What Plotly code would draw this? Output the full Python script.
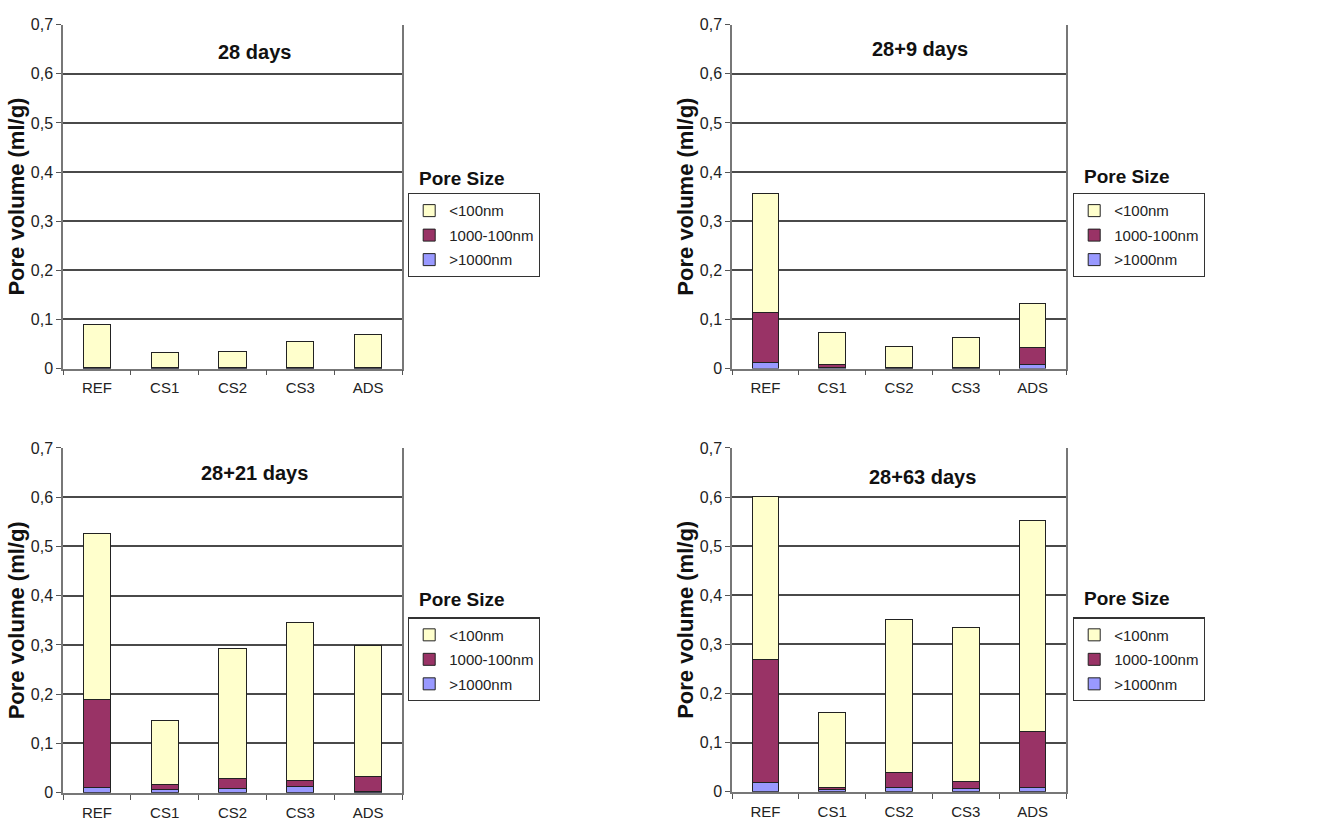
import plotly.graph_objects as go

categories = ["REF", "CS1", "CS2", "CS3", "ADS"]
series_names = ["<100nm", "1000-100nm", ">1000nm"]
panel_titles = ["28 days", "28+9 days", "28+21 days", "28+63 days"]

# segment heights (ml/g), bottom to top: >1000nm, 1000-100nm, <100nm
large_28 = [0.001, 0.001, 0.001, 0.001, 0.001]
medium_28 = [0.002, 0.002, 0.002, 0.002, 0.002]
small_28 = [0.087, 0.029, 0.031, 0.052, 0.066]

large_9 = [0.012, 0.002, 0.001, 0.001, 0.009]
medium_9 = [0.103, 0.007, 0.002, 0.002, 0.033]
small_9 = [0.241, 0.064, 0.042, 0.060, 0.090]

large_21 = [0.011, 0.007, 0.008, 0.013, 0.003]
medium_21 = [0.178, 0.009, 0.020, 0.011, 0.030]
small_21 = [0.337, 0.130, 0.264, 0.321, 0.266]

large_63 = [0.019, 0.004, 0.008, 0.007, 0.009]
medium_63 = [0.250, 0.004, 0.031, 0.013, 0.114]
small_63 = [0.332, 0.153, 0.311, 0.315, 0.429]

ytick_vals = [0, 0.1, 0.2, 0.3, 0.4, 0.5, 0.6, 0.7]
ytick_labels = ["0", "0,1", "0,2", "0,3", "0,4", "0,5", "0,6", "0,7"]
y_title = "Pore volume (ml/g)"
legend_title = "Pore Size"

colors = {"<100nm": "#FFFFCC", "1000-100nm": "#993366", ">1000nm": "#9999FF"}
ranks = {"<100nm": 1, "1000-100nm": 2, ">1000nm": 3}

panels = [
    (small_28, medium_28, large_28),
    (small_9, medium_9, large_9),
    (small_21, medium_21, large_21),
    (small_63, medium_63, large_63),
]

W, H = 1324, 838
# plot areas in pixels (left, right, top, bottom)
boxes = [(63, 402, 17, 368), (732, 1066, 17, 368), (63, 402, 449, 801), (732, 1066, 449, 800)]
legend_pos = [(408, 189), (1073, 189), (408, 622), (1073, 622)]
legend_title_pos = [(462, 174), (1127, 172), (462, 604), (1127, 603)]
title_pos = [(254, 45), (920, 42), (254, 475), (922, 479)]

FONT = "Liberation Sans, Arial, sans-serif"
GRID = "#4a4a4a"

fig = go.Figure()
layout = dict(
    width=W, height=H, margin=dict(l=0, r=0, t=0, b=0),
    paper_bgcolor="white", plot_bgcolor="white",
    barmode="stack", bargap=0.6, showlegend=True,
    font=dict(family=FONT, size=15, color="#222"),
)

annotations = []
for i, (small, medium, large) in enumerate(panels):
    n = i + 1
    xa = "x" if n == 1 else f"x{n}"
    ya = "y" if n == 1 else f"y{n}"
    lg = "legend" if n == 1 else f"legend{n}"
    segs = [(">1000nm", large), ("1000-100nm", medium), ("<100nm", small)]
    for name, vals in segs:
        fig.add_trace(go.Bar(
            x=categories, y=vals, name=name, xaxis=xa, yaxis=ya,
            marker=dict(color=colors[name], line=dict(color="#222", width=1)),
            legend=lg, legendgroup=f"{lg}-{name}", legendrank=ranks[name],
        ))
    l, r, t, b = boxes[i]
    xkey = "xaxis" if n == 1 else f"xaxis{n}"
    ykey = "yaxis" if n == 1 else f"yaxis{n}"
    layout[xkey] = dict(
        domain=[l / W, r / W], anchor=ya,
        showgrid=False, showline=True, linecolor="#777", linewidth=1.5,
        ticks="outside", tickson="boundaries", ticklen=5, tickcolor="#555",
        ticklabelstandoff=5,
        tickfont=dict(size=15, color="#222", family=FONT),
        fixedrange=True,
    )
    layout[ykey] = dict(
        domain=[1 - b / H, 1 - t / H], anchor=xa,
        range=[0, 0.7], tickvals=ytick_vals, ticktext=ytick_labels,
        showgrid=True, gridcolor=GRID, gridwidth=1.5,
        showline=True, linecolor="#777", linewidth=1.5, mirror=True,
        ticks="outside", ticklen=5, tickcolor="#555",
        tickfont=dict(size=16, color="#222", family=FONT),
        title=dict(text=f"<b>{y_title}</b>", font=dict(size=22, color="#111", family=FONT), standoff=0),
        zeroline=False, fixedrange=True,
    )
    lx, ly = legend_pos[i]
    layout[lg] = dict(
        x=lx / W, y=1 - ly / H, xanchor="left", yanchor="top",
        xref="paper", yref="paper",
        bordercolor="#333", borderwidth=1.2, bgcolor="white",
        font=dict(size=15, color="#222", family=FONT),
        traceorder="grouped", tracegroupgap=2, itemwidth=30,
    )
    tx, ty = legend_title_pos[i]
    annotations.append(dict(
        text=f"<b>{legend_title}</b>", x=tx / W, y=1 - ty / H, xref="paper", yref="paper",
        showarrow=False, font=dict(size=19, color="#111", family=FONT),
        xanchor="center", yanchor="middle",
    ))
    px, py = title_pos[i]
    annotations.append(dict(
        text=f"<b>{panel_titles[i]}</b>", x=px / W, y=1 - py / H, xref="paper", yref="paper",
        showarrow=False, font=dict(size=20, color="#111", family=FONT),
        xanchor="center", yanchor="middle",
    ))

layout["annotations"] = annotations
fig.update_layout(**layout)
fig.write_html("out.html")
